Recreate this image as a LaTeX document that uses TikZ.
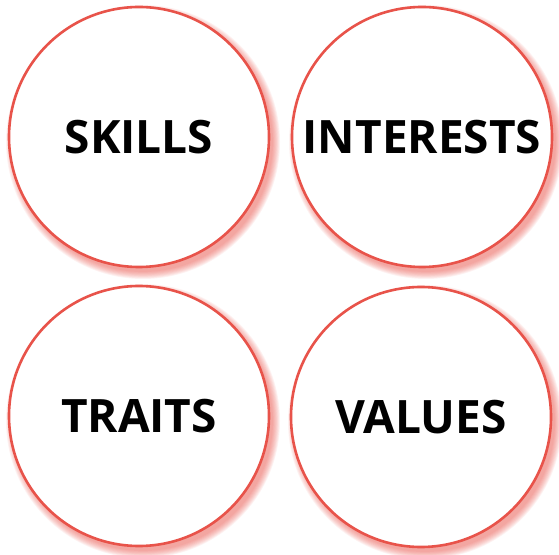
\documentclass[tikz,border=0pt]{standalone}
\usepackage{fontspec}
\setmainfont{Open Sans}
\definecolor{ringred}{HTML}{E8534A}
\tikzset{
  bubble/.style={circle, draw=ringred, line width=2.6pt, fill=white, minimum size=260pt, inner sep=0pt,
    font=\fontsize{46}{50}\selectfont\bfseries, text=black},
}
\newcommand{\glow}[1]{%
  \foreach \k in {1,...,10}{
    \fill[ringred, opacity=0.07] ([xshift=4pt,yshift=-5pt]#1) circle ({129pt+0.8*\k pt});
  }%
}
\begin{document}
\begin{tikzpicture}[x=1pt,y=1pt]
\useasboundingbox (0,0) rectangle (559,554);
\coordinate (ctl) at (139,417);
\coordinate (ctr) at (422,417);
\coordinate (cbl) at (139,138);
\coordinate (cbr) at (421,137);
\glow{ctl}\glow{ctr}\glow{cbl}\glow{cbr}
\node[bubble] (skills) at (ctl) {SKILLS};
\node[bubble] (interests) at (ctr) {INTERESTS};
\node[bubble] (traits) at (cbl) {TRAITS};
\node[bubble] (values) at (cbr) {VALUES};
\end{tikzpicture}
\end{document}
